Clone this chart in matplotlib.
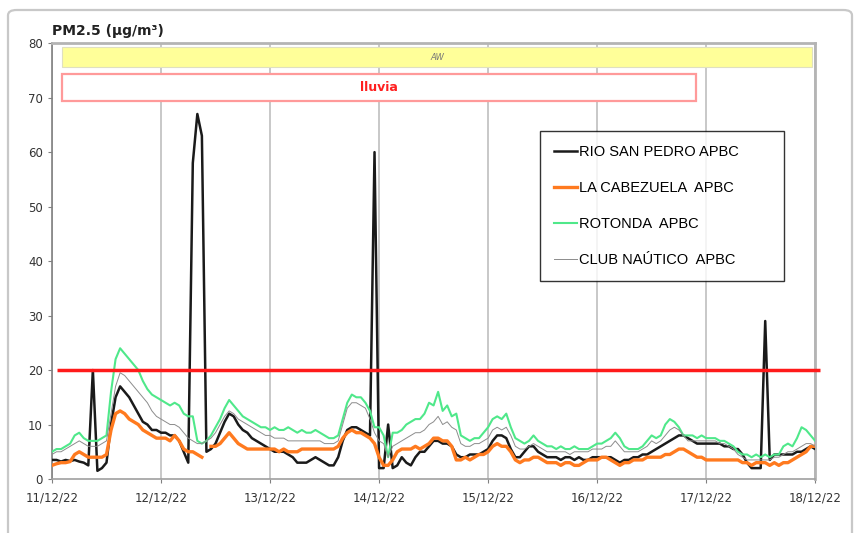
import numpy as np
import pandas as pd
import matplotlib
matplotlib.use('Agg')
import matplotlib.pyplot as plt
import matplotlib.dates as mdates
from matplotlib.patches import Rectangle, FancyBboxPatch

# Hourly PM2.5 values, 11/12/22 00:00 to 18/12/22 00:00
hours = pd.date_range('2022-12-11 00:00', periods=169, freq='h')

rio_san_pedro = [
    3.5, 3.5, 3.2, 3.5, 3.3, 3.5, 3.2, 3, 2.5, 20, 1.5, 2, 3, 10, 15, 17, 16, 15, 13.5, 12, 10.5, 10, 9, 9,
    8.5, 8.5, 8, 8, 7, 5, 3, 58, 67, 63, 5, 5.5, 6.5, 8.5, 10.5, 12, 11.5, 10, 9, 8.5, 7.5, 7, 6.5, 6,
    5.5, 5, 5, 5, 4.5, 4, 3, 3, 3, 3.5, 4, 3.5, 3, 2.5, 2.5, 4, 7, 9, 9.5, 9.5, 9, 8.5, 8, 60,
    2, 2, 10, 2, 2.5, 4, 3, 2.5, 4, 5, 5, 6, 7, 7, 6.5, 6.5, 6, 4.5, 4, 4, 4.5, 4.5, 4.5, 5,
    5.5, 7, 8, 8, 7.5, 5.5, 4, 4, 5, 6, 6, 5, 4.5, 4, 4, 4, 3.5, 4, 4, 3.5, 4, 3.5, 3.5, 4,
    4, 4, 4, 4, 3.5, 3, 3.5, 3.5, 4, 4, 4.5, 4.5, 5, 5.5, 6, 6.5, 7, 7.5, 8, 8, 7.5, 7, 6.5, 6.5,
    6.5, 6.5, 6.5, 6.5, 6, 6, 5.5, 5.5, 4.5, 3, 2, 2, 2, 29, 3.5, 4.5, 4.5, 4.5, 4.5, 4.5, 5, 5, 5.5, 6, 5.5]

la_cabezuela = [
    2.5, 2.8, 3, 3, 3.2, 4.5, 5, 4.5, 4, 4, 4, 4, 4.5, 9, 12, 12.5, 12, 11, 10.5, 10, 9, 8.5, 8, 7.5,
    7.5, 7.5, 7, 8, 7, 5.5, 5, 5, 4.5, 4, np.nan, 6, 6, 6.5, 7.5, 8.5, 7.5, 6.5, 6, 5.5, 5.5, 5.5, 5.5, 5.5,
    5.5, 5.5, 5, 5.5, 5, 5, 5, 5.5, 5.5, 5.5, 5.5, 5.5, 5.5, 5.5, 5.5, 6, 7.5, 8.5, 9, 8.5, 8.5, 8, 7.5, 6.5,
    4, 2.5, 2.5, 3.5, 5, 5.5, 5.5, 5.5, 6, 5.5, 6, 6.5, 7.5, 7.5, 7, 7, 6, 3.5, 3.5, 4, 3.5, 4, 4.5, 4.5,
    5, 6, 6.5, 6, 6, 5, 3.5, 3, 3.5, 3.5, 4, 4, 3.5, 3, 3, 3, 2.5, 3, 3, 2.5, 2.5, 3, 3.5, 3.5,
    3.5, 4, 4, 3.5, 3, 2.5, 3, 3, 3.5, 3.5, 3.5, 4, 4, 4, 4, 4.5, 4.5, 5, 5.5, 5.5, 5, 4.5, 4, 4,
    3.5, 3.5, 3.5, 3.5, 3.5, 3.5, 3.5, 3.5, 3, 3, 2.5, 3, 3, 3, 2.5, 3, 2.5, 3, 3, 3.5, 4, 4.5, 5, 6, 6]

rotonda = [
    5, 5.5, 5.5, 6, 6.5, 8, 8.5, 7.5, 7, 7, 7, 7.5, 8, 16, 22, 24, 23, 22, 21, 20, 18, 16.5, 15.5, 15,
    14.5, 14, 13.5, 14, 13.5, 12, 11.5, 11.5, 7, 6.5, 7, 8, 9.5, 11, 13, 14.5, 13.5, 12.5, 11.5, 11, 10.5, 10, 9.5, 9.5,
    9, 9.5, 9, 9, 9.5, 9, 8.5, 9, 8.5, 8.5, 9, 8.5, 8, 7.5, 7.5, 8, 11, 14, 15.5, 15, 15, 14, 12.5, 9.5,
    9.5, 8, 4, 8.5, 8.5, 9, 10, 10.5, 11, 11, 12, 14, 13.5, 16, 12.5, 13.5, 11.5, 12, 8, 7.5, 7, 7.5, 7.5, 8.5,
    9.5, 11, 11.5, 11, 12, 9.5, 7.5, 7, 6.5, 7, 8, 7, 6.5, 6, 6, 5.5, 6, 5.5, 5.5, 6, 5.5, 5.5, 5.5, 6,
    6.5, 6.5, 7, 7.5, 8.5, 7.5, 6, 5.5, 5.5, 5.5, 6, 7, 8, 7.5, 8, 10, 11, 10.5, 9.5, 8, 8, 8, 7.5, 8,
    7.5, 7.5, 7.5, 7, 7, 6.5, 6, 5, 4.5, 4.5, 4, 4.5, 4, 4.5, 4, 4.5, 4.5, 6, 6.5, 6, 7.5, 9.5, 9, 8, 7]

club_nautico = [
    4.5, 5, 5, 5.5, 6, 6.5, 7, 6.5, 6, 6, 6, 6.5, 7, 12, 17, 19.5, 19, 18, 17, 16, 15, 14, 12.5, 11.5,
    11, 10.5, 10, 10, 9.5, 8.5, 7.5, 7, 6.5, 6.5, 7, 7.5, 8.5, 10, 11.5, 12.5, 12, 11, 10.5, 10, 9.5, 9, 8.5, 8,
    8, 7.5, 7.5, 7.5, 7, 7, 7, 7, 7, 7, 7, 7, 6.5, 6.5, 6.5, 7, 10, 13, 14, 14, 13.5, 13, 11, 8.5,
    7, 6.5, 4, 6, 6.5, 7, 7.5, 8, 8.5, 8.5, 9, 10, 10.5, 11.5, 10, 10.5, 9.5, 9, 6.5, 6, 6, 6.5, 6.5, 7,
    7.5, 9, 9.5, 9, 9.5, 8, 6, 5.5, 5.5, 6, 6.5, 6, 5.5, 5, 5, 5, 5, 5, 4.5, 5, 5, 5, 5, 5.5,
    5.5, 5.5, 6, 6, 7, 6, 5, 5, 5, 5, 5.5, 6, 7, 6.5, 7, 8, 9, 9.5, 9, 8, 7, 7, 7, 7,
    7, 7, 7, 6.5, 6.5, 6, 5.5, 4.5, 4, 3.5, 3.5, 3.5, 3.5, 3.5, 3.5, 4, 4, 4.5, 5, 5, 5.5, 6, 6.5, 6.5, 6]

series_names = ['RIO SAN PEDRO APBC', 'LA CABEZUELA  APBC', 'ROTONDA  APBC', 'CLUB NAÚTICO  APBC']
series_colors = ['#1a1a1a', '#ff7a1f', '#4fe88a', '#8c8c8c']
series_widths = [1.8, 2.4, 1.5, 0.7]

# Episodes and limit value
limit_value = 20
aw_start, aw_end = pd.Timestamp('2022-12-11 02:10'), pd.Timestamp('2022-12-17 23:20')
rain_start, rain_end = pd.Timestamp('2022-12-11 02:10'), pd.Timestamp('2022-12-16 21:40')

fig = plt.figure(figsize=(8.59, 5.33), dpi=100)
ax = fig.add_axes([0.0605, 0.1013, 0.8885, 0.8177])

# Outer chart frame
fig.patches.append(FancyBboxPatch(
    (8/859, -0.05), 844/859, 1.05 - 10/533,
    boxstyle='round,pad=0,rounding_size=0.01',
    transform=fig.transFigure, facecolor='none',
    edgecolor='#c8c8c8', linewidth=1.6, clip_on=False))

for vals, name, col, lw in zip(
        [rio_san_pedro, la_cabezuela, rotonda, club_nautico],
        series_names, series_colors, series_widths):
    ax.plot(hours, vals, color=col, linewidth=lw, label=name, zorder=3)

# Limit line
ax.hlines(limit_value, hours[0] + pd.Timedelta(hours=1.2), hours[-1] + pd.Timedelta(hours=1),
          color='#ff1a1a', linewidth=2.5, zorder=5, clip_on=False)

# AW band
ax.add_patch(Rectangle(
    (mdates.date2num(aw_start), 75.6),
    mdates.date2num(aw_end) - mdates.date2num(aw_start), 3.7,
    facecolor='#ffff99', edgecolor='#e0e0c0', linewidth=0.8, zorder=4))
ax.text(mdates.date2num(aw_start) + (mdates.date2num(aw_end) - mdates.date2num(aw_start)) / 2,
        77.45, 'AW', fontsize=6, style='italic', color='#777777',
        ha='center', va='center', zorder=5)

# Rain band
ax.add_patch(Rectangle(
    (mdates.date2num(rain_start), 69.4),
    mdates.date2num(rain_end) - mdates.date2num(rain_start), 4.9,
    facecolor='white', edgecolor='#ff9a9a', linewidth=1.6, zorder=4))
ax.text(mdates.date2num(pd.Timestamp('2022-12-14 00:00')), 71.9, 'lluvia',
        fontsize=9, fontweight='bold', color='#ff2020',
        ha='center', va='center', zorder=5)

ax.set_xlim(hours[0], hours[-1])
ax.set_ylim(0, 80)
ax.set_yticks(range(0, 81, 10))
ax.xaxis.set_major_locator(mdates.DayLocator())
ax.xaxis.set_major_formatter(mdates.DateFormatter('%d/%m/%y'))
ax.tick_params(axis='both', labelsize=8.5, labelcolor='#333333', color='#808080',
               length=3, width=0.8)
ax.tick_params(axis='x', pad=6)

ax.grid(axis='x', color='#c4c4c4', linewidth=1.3, zorder=0)
ax.set_axisbelow(True)
ax.spines['left'].set_color('#808080')
ax.spines['bottom'].set_color('#a0a0a0')
ax.spines['top'].set_color('#b4b4b4')
ax.spines['right'].set_color('#b4b4b4')
ax.spines['top'].set_linewidth(2)
ax.spines['right'].set_linewidth(2)
ax.spines['left'].set_linewidth(1.2)
ax.spines['bottom'].set_linewidth(1.2)

ax.text(0.0, 1.012, 'PM2.5 (µg/m³)', transform=ax.transAxes,
        fontsize=10, fontweight='bold', color='#222222', ha='left', va='bottom')

leg = ax.legend(loc='upper left', bbox_to_anchor=(0.639, 0.798, 0.32, 0.0),
                mode='expand', borderaxespad=0, frameon=True, fancybox=False,
                prop={'family': 'Liberation Sans', 'size': 10.5},
                handlelength=1.6, handletextpad=0.15, labelspacing=1.5,
                borderpad=0.95)
leg.get_frame().set_edgecolor('black')
leg.get_frame().set_linewidth(1.0)
leg.set_zorder(6)

fig.savefig('out.png', dpi=100)
